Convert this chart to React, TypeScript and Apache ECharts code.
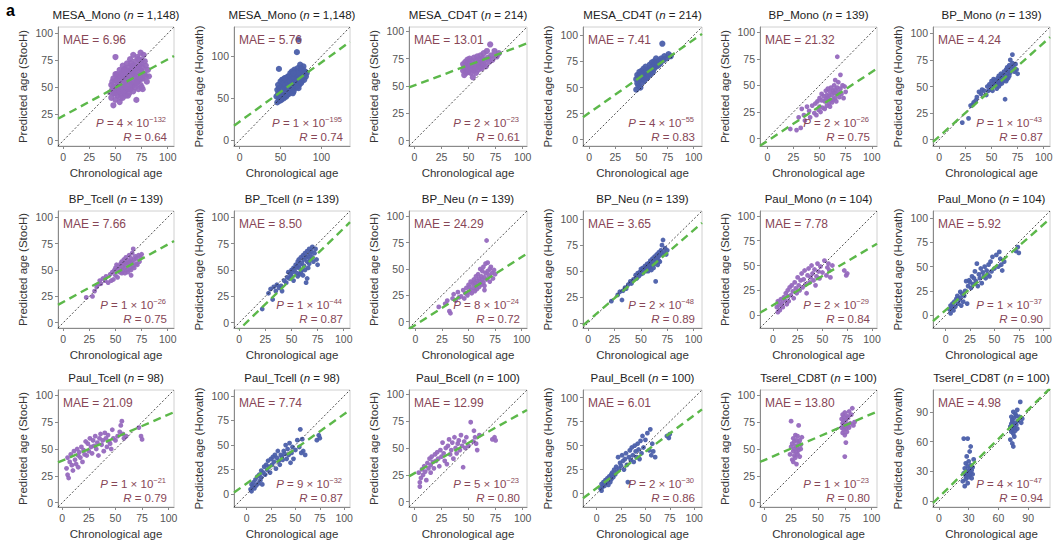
import React, { useEffect, useRef } from "react";
import * as echarts from "echarts";

// ---------- data ----------
const MESA_MONO_AGE = [45,46,46,47,47,48,48,49,49,50,50,50,51,51,52,52,53,53,54,54,55,55,56,56,57,57,58,58,59,59,60,60,61,61,62,62,63,63,64,64,65,65,66,66,67,67,68,68,69,69,70,70,71,71,72,72,73,73,74,74,75,75,76,76,77,78,79,80,81,82,
  48,50,52,53,54,55,56,57,58,59,60,61,62,63,64,65,66,67,68,69,70,71,72,73,74,75,76,77,78,79,50,55,60,65,70,75,58,62,66,72];
const MESA_MONO_STOCH = [45,52,40,55,48,33,58,44,50,78,38,56,47,62,42,53,60,48,36,66,52,44,63,57,40,70,50,59,46,67,55,42,72,61,48,58,65,44,76,54,60,49,70,57,46,80,63,52,74,58,38,67,55,78,61,48,70,57,82,52,65,75,58,48,80,62,70,55,66,60,
  50,44,58,54,46,60,50,62,45,55,64,52,68,56,48,66,52,62,70,50,60,68,56,64,72,58,68,62,74,60,62,40,50,72,54,50,66,42,64,76];
const MESA_MONO_HORVATH = [52,60,45,66,55,50,85,58,47,63,54,70,48,60,66,53,57,72,50,62,68,56,74,60,52,66,70,58,64,76,55,68,72,62,80,58,66,74,60,82,70,63,76,58,84,68,72,62,80,66,105,74,64,86,120,70,78,66,90,72,80,68,84,74,78,88,72,82,76,80,
  62,58,72,60,68,52,66,72,62,68,76,58,70,62,74,78,66,74,82,70,64,78,82,72,80,86,70,84,76,82,48,74,62,56,80,74,54,64,80,62];

const MESA_CD4T_AGE = [45,45,46,46,47,47,48,48,49,49,50,50,51,51,52,52,53,53,54,54,55,55,56,56,57,57,58,58,59,59,60,60,61,61,62,62,63,64,64,65,66,67,68,69,70,71,72,74,76,78];
const MESA_CD4T_STOCH = [64,70,60,67,72,65,62,69,74,66,63,71,68,75,62,70,66,73,58,69,64,76,70,66,73,62,68,77,71,65,74,69,67,78,72,66,75,70,80,74,68,82,76,72,88,78,74,82,77,80];
const MESA_CD4T_HORVATH = [48,58,54,62,52,60,57,65,50,61,58,66,55,63,60,68,57,64,62,70,59,66,64,60,68,62,66,72,63,69,67,74,65,70,68,75,72,70,78,74,71,76,73,78,92,76,80,78,82,80];

const BP_AGE = [22,28,30,32,33,35,36,38,40,41,43,45,46,47,48,49,50,50,51,52,52,53,54,55,55,56,56,57,57,58,58,59,59,60,60,61,61,62,62,63,63,64,64,65,65,66,66,67,67,68,68,69,70,70,71,72,73,74,75,65];
const BP_MONO_STOCH = [9,8,20,10,28,22,17,30,26,20,31,24,33,22,35,27,38,30,25,36,42,29,40,35,28,45,37,31,41,38,47,33,40,44,30,36,48,41,34,45,37,43,50,38,46,42,35,77,48,44,53,39,47,60,42,50,38,49,44,55];
const BP_MONO_HORVATH = [16,20,32,33,35,37,40,45,43,47,46,42,50,46,52,47,55,50,46,53,57,51,56,53,48,58,54,50,60,57,52,62,56,59,53,61,55,64,58,60,38,66,55,62,68,58,65,70,60,75,63,67,80,72,69,64,71,66,62,57];
const BP_TCELL_STOCH = [24,25,30,34,36,40,37,42,40,44,38,46,40,48,41,50,52,45,55,50,43,54,48,56,51,47,58,53,49,56,60,52,47,57,62,50,55,59,48,56,64,52,58,61,50,57,66,54,70,60,52,63,56,61,55,64,58,62,65,45];
const BP_TCELL_HORVATH = [13,28,32,22,34,30,36,33,35,30,40,38,43,48,42,46,50,44,48,52,40,50,55,47,53,58,44,52,60,46,55,62,48,57,50,64,45,60,54,66,50,62,38,58,68,63,52,70,56,65,60,68,62,72,58,66,70,60,55,42];
const BP_NEU_STOCH = [14,17,20,10,8,22,26,20,28,23,24,30,22,27,32,25,35,28,33,30,38,27,36,32,40,29,37,34,43,31,39,36,45,33,41,38,50,35,43,40,48,37,52,42,34,46,55,40,77,48,56,44,50,38,52,46,41,49,45,30];
const BP_NEU_HORVATH = [21,27,30,22,31,34,33,37,40,38,42,46,43,48,45,49,52,47,50,53,48,51,55,50,53,57,52,55,50,58,53,60,54,57,51,62,56,59,53,64,57,61,40,66,58,63,56,68,60,65,59,70,75,66,80,68,72,66,70,62];

const PAUL_AGE = [4,5,5,6,7,8,9,10,11,12,13,14,15,15,16,17,18,19,20,21,22,23,24,25,26,27,28,29,30,31,32,33,34,35,36,37,38,39,40,41,42,43,44,45,46,47,48,50,52,54,55,56,57,58,60,72,74,75];
const PAUL_MONO_STOCH = [8,3,14,10,5,16,12,8,18,15,22,11,25,19,14,28,20,30,24,17,33,27,22,38,30,25,35,42,28,36,45,31,22,40,47,33,38,50,42,35,46,30,39,52,44,37,49,43,55,40,48,52,45,38,50,45,40,42];
const PAUL_MONO_HORVATH = [6,2,10,8,12,5,14,9,17,20,12,16,24,18,10,22,14,20,25,35,12,30,36,34,28,40,32,38,45,35,53,30,42,38,48,33,44,40,50,38,46,42,52,40,55,45,60,48,62,50,65,58,52,46,55,66,70,64];
const PAUL_TCELL_STOCH = [32,42,26,23,38,45,35,30,48,40,36,50,44,33,47,42,52,38,49,45,57,44,55,48,60,52,46,58,53,62,50,56,44,60,64,54,58,48,65,60,52,63,57,55,50,68,60,58,62,66,72,76,64,60,62,70,62,59];
const PAUL_TCELL_HORVATH = [5,10,3,8,12,6,15,9,18,11,20,14,24,17,10,22,28,20,30,25,34,28,22,36,30,38,33,40,26,37,44,34,30,40,38,35,44,41,50,36,46,40,52,32,42,48,36,45,55,48,66,42,56,44,40,55,60,57];
const PAUL_BCELL_STOCH = [27,14,18,22,30,25,33,28,20,36,31,40,34,27,42,37,31,44,38,46,40,33,48,42,55,45,38,50,35,52,58,44,48,55,40,60,50,45,54,57,48,62,52,32,56,50,60,52,74,56,66,60,54,48,62,58,60,57];
const PAUL_BCELL_HORVATH = [5,3,10,7,12,8,14,11,16,9,18,12,20,15,22,17,25,20,28,23,38,26,32,29,40,34,25,36,42,30,12,38,45,35,48,40,33,50,44,38,52,46,36,55,42,60,48,56,63,45,67,40,52,44,38,60,58,62];

const TSEREL_AGE = [24,25,25,26,26,27,27,27,28,28,28,29,29,29,30,30,30,31,31,31,32,32,32,33,33,34,34,35,72,72,73,73,73,74,74,74,74,75,75,75,75,76,76,76,77,77,77,78,78,79,79,80,81,82,83,84];
const TSEREL_STOCH = [45,76,52,40,55,48,60,38,50,44,57,42,53,63,47,36,58,51,45,62,49,55,72,43,58,50,54,61,70,78,65,82,74,68,80,72,76,84,63,71,43,77,69,56,81,73,66,79,72,85,70,74,82,88,72,75];
const TSEREL_HORVATH = [20,63,28,15,33,25,38,22,30,27,45,18,35,63,24,30,40,26,32,50,28,36,55,23,31,34,27,42,62,75,70,85,78,58,82,72,80,90,68,76,55,84,74,65,88,79,71,86,77,92,73,81,85,100,79,83];

// panel order: row by row, 6 per row
const PANEL_X = [MESA_MONO_AGE, MESA_MONO_AGE, MESA_CD4T_AGE, MESA_CD4T_AGE, BP_AGE, BP_AGE, BP_AGE, BP_AGE, BP_AGE, BP_AGE, PAUL_AGE, PAUL_AGE, PAUL_AGE, PAUL_AGE, PAUL_AGE, PAUL_AGE, TSEREL_AGE, TSEREL_AGE];
const PANEL_Y = [MESA_MONO_STOCH, MESA_MONO_HORVATH, MESA_CD4T_STOCH, MESA_CD4T_HORVATH, BP_MONO_STOCH, BP_MONO_HORVATH, BP_TCELL_STOCH, BP_TCELL_HORVATH, BP_NEU_STOCH, BP_NEU_HORVATH, PAUL_MONO_STOCH, PAUL_MONO_HORVATH, PAUL_TCELL_STOCH, PAUL_TCELL_HORVATH, PAUL_BCELL_STOCH, PAUL_BCELL_HORVATH, TSEREL_STOCH, TSEREL_HORVATH];

const TITLE_NAMES = ["MESA_Mono","MESA_Mono","MESA_CD4T","MESA_CD4T","BP_Mono","BP_Mono","BP_Tcell","BP_Tcell","BP_Neu","BP_Neu","Paul_Mono","Paul_Mono","Paul_Tcell","Paul_Tcell","Paul_Bcell","Paul_Bcell","Tserel_CD8T","Tserel_CD8T"];
const TITLE_N = ["1,148","1,148","214","214","139","139","139","139","139","139","104","104","98","98","100","100","100","100"];
const MAE = ["6.96","5.76","13.01","7.41","21.32","4.24","7.66","8.50","24.29","3.65","7.78","5.92","21.09","7.74","12.99","6.01","13.80","4.98"];
const P_MANT = ["4","1","2","4","2","1","1","1","8","2","2","1","1","9","5","2","1","4"];
const P_EXP = ["132","195","23","55","26","43","26","44","24","48","29","37","21","32","23","30","23","47"];
const R_VAL = ["0.64","0.74","0.61","0.83","0.75","0.87","0.75","0.87","0.72","0.89","0.84","0.90","0.79","0.87","0.80","0.86","0.80","0.94"];
const FIT_A = [23.1,22.2,50.5,25.8,-2.3,3.1,19.7,-6.4,-3.1,1.9,10,5.4,39.2,10.9,26.4,5.7,39.7,3.9];
const FIT_B = [0.527,0.705,0.37,0.70,0.65,0.88,0.545,0.96,0.645,0.876,0.59,0.875,0.43,0.706,0.567,0.76,0.43,0.98];
const AX_MIN = [-5,-7,-5,-6,-7,-6,-5,-5,-6,-5,-13,-13,-4,-13,-5,-14,-4,-6];
const AX_MAX = [106,135,104,108,105,106,106,106,105,108,105,107,105,106,104,108,105,112];
const TICKS_DEFAULT = [0,25,50,75,100];
const TICKS_WIDE = [0,50,100];
const TICKS_THIRTY = [0,30,60,90];
const PANEL_TICKS = [TICKS_DEFAULT,TICKS_WIDE,TICKS_DEFAULT,TICKS_DEFAULT,TICKS_DEFAULT,TICKS_DEFAULT,TICKS_DEFAULT,TICKS_DEFAULT,TICKS_DEFAULT,TICKS_DEFAULT,TICKS_DEFAULT,TICKS_DEFAULT,TICKS_DEFAULT,TICKS_DEFAULT,TICKS_DEFAULT,TICKS_DEFAULT,TICKS_DEFAULT,TICKS_THIRTY];
const Y_NAMES = ["Predicted age (StocH)","Predicted age (Horvath)"];
const X_NAME = "Chronological age";

// ---------- layout / style ----------
const COL_LEFT = [58, 234, 409, 583, 760, 933];
const COL_W = [116, 116, 118, 119, 117, 117];
const ROW_TOP = [27, 211, 390];
const ROW_H = [119, 117, 117];
const FONT = '"Liberation Sans", Arial, Helvetica, sans-serif';
const PURPLE = "#9669be";
const BLUE = "#4b5faa";
const GREEN = "#5cb84a";
const MAROON = "#874656";

export default function App() {
  const ref = useRef<HTMLDivElement>(null);
  useEffect(() => {
    document.body.style.margin = "0";
    if (!ref.current) return;
    const chart = echarts.init(ref.current, undefined, { renderer: "svg" });
    const grids: any[] = [];
    const xAxes: any[] = [];
    const yAxes: any[] = [];
    const series: any[] = [];
    const graphics: any[] = [];
    graphics.push({ type: "text", x: 6, y: 2, z: 100, style: { text: "a", fontFamily: FONT, fontWeight: "bold", fontSize: 16, fill: "#000" } });
    for (let i = 0; i < 18; i++) {
      const r = Math.floor(i / 6);
      const c = i % 6;
      const left = COL_LEFT[c], top = ROW_TOP[r], w = COL_W[c], h = ROW_H[r];
      const mn = AX_MIN[i], mx = AX_MAX[i];
      const ticks = PANEL_TICKS[i];
      const isMesa = i < 4;
      grids.push({ left, top, width: w, height: h, show: true, borderColor: "#d0d0d0", borderWidth: 1, backgroundColor: "transparent" });
      const axisCommon = {
        type: "value",
        gridIndex: i,
        min: mn,
        max: mx,
        axisLine: { show: true, onZero: false, lineStyle: { color: "#8a8a8a", width: 1 } },
        axisTick: { show: true, length: 3, customValues: ticks, lineStyle: { color: "#8a8a8a" } },
        axisLabel: { customValues: ticks, color: "#555", fontSize: 10.5, fontFamily: FONT, margin: 5 },
        splitLine: { show: false },
        nameLocation: "middle",
        nameTextStyle: { color: "#333", fontSize: 11.5, fontFamily: FONT },
      };
      xAxes.push({ ...axisCommon, name: X_NAME, nameGap: 21 });
      yAxes.push({ ...axisCommon, name: Y_NAMES[i % 2], nameGap: 29 });
      const xs = PANEL_X[i], ys = PANEL_Y[i];
      series.push({
        type: "scatter",
        xAxisIndex: i,
        yAxisIndex: i,
        data: xs.map((x, k) => [x, ys[k]]),
        symbolSize: isMesa ? 6.2 : 4.8,
        itemStyle: { color: i % 2 === 0 ? PURPLE : BLUE, opacity: 0.95 },
        z: 2,
        silent: true,
      });
      series.push({
        type: "line",
        xAxisIndex: i,
        yAxisIndex: i,
        data: [[mn, mn], [mx, mx]],
        symbol: "none",
        lineStyle: { color: "#222", width: 0.8, type: [2, 2] },
        z: 3,
        silent: true,
      });
      series.push({
        type: "line",
        xAxisIndex: i,
        yAxisIndex: i,
        data: [[mn, FIT_A[i] + FIT_B[i] * mn], [mx, FIT_A[i] + FIT_B[i] * mx]],
        symbol: "none",
        clip: true,
        lineStyle: { color: GREEN, width: 2.4, type: [8, 5] },
        z: 4,
        silent: true,
      });
      graphics.push({
        type: "text", x: left + w / 2, y: top - 12, z: 100,
        style: {
          text: `{a|${TITLE_NAMES[i]} (}{i|n}{a| = ${TITLE_N[i]})}`,
          align: "center", verticalAlign: "middle",
          rich: {
            a: { fontFamily: FONT, fontSize: 11.5, fill: "#222", color: "#222" },
            i: { fontFamily: FONT, fontSize: 11.5, fontStyle: "italic", fill: "#222", color: "#222" },
          },
        },
      });
      graphics.push({
        type: "text", x: left + 5, y: top + 13, z: 100,
        style: { text: `MAE = ${MAE[i]}`, fontFamily: FONT, fontSize: 12, fill: MAROON, align: "left", verticalAlign: "middle" },
      });
      graphics.push({
        type: "text", x: left + w - 8, y: top + h - 23, z: 100,
        style: {
          text: `{i|P}{t| = ${P_MANT[i]} × 10}{s|\u2212${P_EXP[i]}}`,
          align: "right", verticalAlign: "middle",
          rich: {
            i: { fontFamily: FONT, fontSize: 11.5, fontStyle: "italic", fill: MAROON, color: MAROON, lineHeight: 15 },
            t: { fontFamily: FONT, fontSize: 11.5, fill: MAROON, color: MAROON, lineHeight: 15 },
            s: { fontFamily: FONT, fontSize: 7.5, fill: MAROON, color: MAROON, verticalAlign: "top", lineHeight: 15 },
          },
        },
      });
      graphics.push({
        type: "text", x: left + w - 7, y: top + h - 9, z: 100,
        style: {
          text: `{i|R}{t| = ${R_VAL[i]}}`,
          align: "right", verticalAlign: "middle",
          rich: {
            i: { fontFamily: FONT, fontSize: 11.5, fontStyle: "italic", fill: MAROON, color: MAROON },
            t: { fontFamily: FONT, fontSize: 11.5, fill: MAROON, color: MAROON },
          },
        },
      });
    }
    chart.setOption({
      animation: false,
      backgroundColor: "#fff",
      textStyle: { fontFamily: FONT },
      grid: grids,
      xAxis: xAxes,
      yAxis: yAxes,
      series,
      graphic: graphics,
    });
    return () => chart.dispose();
  }, []);
  return <div ref={ref} style={{ width: 1060, height: 545 }} />;
}
